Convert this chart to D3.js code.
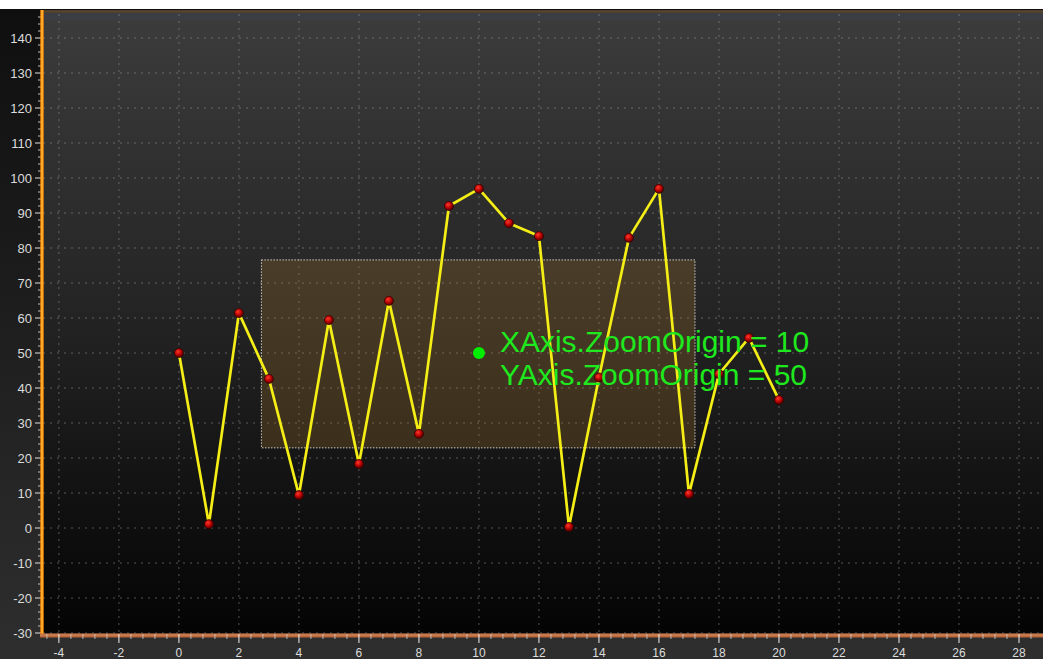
<!DOCTYPE html>
<html>
<head>
<meta charset="utf-8">
<script src="https://cdn.jsdelivr.net/npm/d3@7/dist/d3.min.js"></script>
<style>
  html, body { margin: 0; padding: 0; background: #ffffff; }
  svg { display: block; }
</style>
</head>
<body>
<svg id="chart" width="1043" height="659"></svg>
<script>
// ---- data ----
const xValues = [0, 1, 2, 3, 4, 5, 6, 7, 8, 9, 10, 11, 12, 13, 14, 15, 16, 17, 18, 19, 20];
const yValues = [50, 1.1, 61.4, 42.6, 9.4, 59.4, 18.3, 64.9, 26.9, 92, 96.9, 87.1, 83.4, 0.3, 43, 82.9, 96.9, 9.7, 44, 54.3, 36.6];
const xTicks = [-4, -2, 0, 2, 4, 6, 8, 10, 12, 14, 16, 18, 20, 22, 24, 26, 28];
const yTicks = [-30, -20, -10, 0, 10, 20, 30, 40, 50, 60, 70, 80, 90, 100, 110, 120, 130, 140];
const zoomOrigin = [10, 50];
const zoomRectX = [2.75, 17.2];
const zoomRectY = [22.9, 76.6];
const labelLines = ["XAxis.ZoomOrigin = 10", "YAxis.ZoomOrigin = 50"];

const W = 1043, H = 659;
const plot = { left: 43, right: 1043, top: 10, bottom: 633 };

const svg = d3.select("#chart");
const defs = svg.append("defs");

const outerGrad = defs.append("linearGradient").attr("id", "outerGrad")
  .attr("x1", 0).attr("y1", 0).attr("x2", 0).attr("y2", 1);
outerGrad.append("stop").attr("offset", "0%").attr("stop-color", "#0f0f0f");
outerGrad.append("stop").attr("offset", "100%").attr("stop-color", "#2e2e2e");

const plotGrad = defs.append("linearGradient").attr("id", "plotGrad")
  .attr("x1", 0).attr("y1", 0).attr("x2", 0).attr("y2", 1);
plotGrad.append("stop").attr("offset", "0%").attr("stop-color", "#3c3c3c");
plotGrad.append("stop").attr("offset", "45%").attr("stop-color", "#262626");
plotGrad.append("stop").attr("offset", "100%").attr("stop-color", "#040404");

const ptGrad = defs.append("radialGradient").attr("id", "ptGrad")
  .attr("cx", "40%").attr("cy", "35%").attr("r", "65%");
ptGrad.append("stop").attr("offset", "0%").attr("stop-color", "#ff3a2a");
ptGrad.append("stop").attr("offset", "60%").attr("stop-color", "#b00000");
ptGrad.append("stop").attr("offset", "100%").attr("stop-color", "#500000");

// scales
const x = d3.scaleLinear().domain([-4.53, 28.8]).range([plot.left, plot.right]);
const y = d3.scaleLinear().domain([-30, 148]).range([plot.bottom, plot.top]);

// backgrounds
svg.append("rect").attr("x", 0).attr("y", 9).attr("width", W).attr("height", H - 9)
  .attr("fill", "url(#outerGrad)");
svg.append("rect").attr("x", plot.left).attr("y", plot.top)
  .attr("width", plot.right - plot.left).attr("height", plot.bottom - plot.top)
  .attr("fill", "url(#plotGrad)");
// top border
svg.append("line").attr("x1", plot.left).attr("x2", W).attr("y1", 11.5).attr("y2", 11.5)
  .attr("stroke", "#5c4525").attr("stroke-width", 2);
svg.append("rect").attr("x", plot.left).attr("y", 13).attr("width", W - plot.left).attr("height", 7)
  .attr("fill", "#3c404a").attr("opacity", 0.5);

// gridlines
const grid = svg.append("g");
grid.selectAll("line.v").data(xTicks).enter().append("line")
  .attr("x1", d => x(d)).attr("x2", d => x(d))
  .attr("y1", plot.top + 4).attr("y2", plot.bottom)
  .attr("stroke", "#a0a0a0").attr("stroke-opacity", 0.5)
  .attr("stroke-width", 1).attr("stroke-dasharray", "2,5");
grid.selectAll("line.h").data(yTicks).enter().append("line")
  .attr("x1", plot.left).attr("x2", plot.right)
  .attr("y1", d => y(d)).attr("y2", d => y(d))
  .attr("stroke", "#a0a0a0").attr("stroke-opacity", 0.5)
  .attr("stroke-width", 1).attr("stroke-dasharray", "2,5");

// zoom rectangle
svg.append("rect")
  .attr("x", x(zoomRectX[0])).attr("y", y(zoomRectY[1]))
  .attr("width", x(zoomRectX[1]) - x(zoomRectX[0]))
  .attr("height", y(zoomRectY[0]) - y(zoomRectY[1]))
  .attr("fill", "rgb(170,120,40)").attr("fill-opacity", 0.25)
  .attr("stroke", "#e8e8e8").attr("stroke-width", 1).attr("stroke-dasharray", "1.5,1.5")
  .attr("stroke-opacity", 0.85);

// line
const data = xValues.map((d, i) => [d, yValues[i]]);
svg.append("path").datum(data)
  .attr("d", d3.line().x(d => x(d[0])).y(d => y(d[1])))
  .attr("fill", "none").attr("stroke", "#f4ee16").attr("stroke-width", 2.7)
  .attr("stroke-linejoin", "round");

svg.append("g").selectAll("circle").data(data).enter().append("circle")
  .attr("cx", d => x(d[0])).attr("cy", d => y(d[1])).attr("r", 4.5)
  .attr("fill", "url(#ptGrad)").attr("stroke", "#3a0000").attr("stroke-width", 0.8);

// zoom origin marker & label
svg.append("circle").attr("cx", x(zoomOrigin[0])).attr("cy", y(zoomOrigin[1])).attr("r", 6)
  .attr("fill", "#00ee00");
const lbl = svg.append("text").attr("x", x(zoomOrigin[0]) + 21).attr("y", 352)
  .attr("fill", "#1ee81e")
  .attr("font-family", "'Liberation Sans', Arial, sans-serif").attr("font-size", 30);
labelLines.forEach((t, i) => {
  lbl.append("tspan").attr("x", x(zoomOrigin[0]) + 21).attr("dy", i === 0 ? 0 : 33).text(t);
});

// Y axis
const yAxisG = svg.append("g");
const yMinor = d3.range(-30, 148, 2).filter(v => v % 10 !== 0);
yAxisG.selectAll("line.minor").data(yMinor).enter().append("line")
  .attr("x1", 38).attr("x2", 42).attr("y1", d => y(d)).attr("y2", d => y(d))
  .attr("stroke", "#bdbdbd").attr("stroke-width", 1);
yAxisG.selectAll("line.major").data(yTicks).enter().append("line")
  .attr("x1", 35).attr("x2", 42).attr("y1", d => y(d)).attr("y2", d => y(d))
  .attr("stroke", "#e0e0e0").attr("stroke-width", 1);
yAxisG.selectAll("text").data(yTicks).enter().append("text")
  .attr("x", 32).attr("y", d => y(d) + 4.5).attr("text-anchor", "end")
  .attr("fill", "#dcdcdc").attr("font-family", "'Liberation Sans', Arial, sans-serif")
  .attr("font-size", 13).text(d => d);
yAxisG.append("line").attr("x1", 42).attr("x2", 42).attr("y1", plot.top).attr("y2", plot.bottom + 3)
  .attr("stroke", "#ff8a00").attr("stroke-width", 3.4);
yAxisG.append("line").attr("x1", 42).attr("x2", 42).attr("y1", plot.top).attr("y2", plot.bottom + 3)
  .attr("stroke", "#ffc040").attr("stroke-width", 1.2);

// X axis
const xAxisG = svg.append("g");
xAxisG.append("line").attr("x1", 40).attr("x2", W).attr("y1", 635.5).attr("y2", 635.5)
  .attr("stroke", "#b8693c").attr("stroke-width", 4);
xAxisG.append("line").attr("x1", 40).attr("x2", W).attr("y1", 635).attr("y2", 635)
  .attr("stroke", "#e09060").attr("stroke-width", 1.2).attr("stroke-opacity", 0.8);
const xMinor = d3.range(-4.4, 28.8, 0.4).filter(v => Math.abs(v / 2 - Math.round(v / 2)) > 0.01);
xAxisG.selectAll("line.minor").data(xMinor).enter().append("line")
  .attr("x1", d => x(d)).attr("x2", d => x(d)).attr("y1", 634).attr("y2", 639)
  .attr("stroke", "#cfcfcf").attr("stroke-width", 1).attr("stroke-opacity", 0.8);
xAxisG.selectAll("line.major").data(xTicks).enter().append("line")
  .attr("x1", d => x(d)).attr("x2", d => x(d)).attr("y1", 634).attr("y2", 643)
  .attr("stroke", "#f0f0f0").attr("stroke-width", 1);
xAxisG.selectAll("text").data(xTicks).enter().append("text")
  .attr("x", d => x(d)).attr("y", 657).attr("text-anchor", "middle")
  .attr("fill", "#dcdcdc").attr("font-family", "'Liberation Sans', Arial, sans-serif")
  .attr("font-size", 12).text(d => d);
</script>
</body>
</html>
